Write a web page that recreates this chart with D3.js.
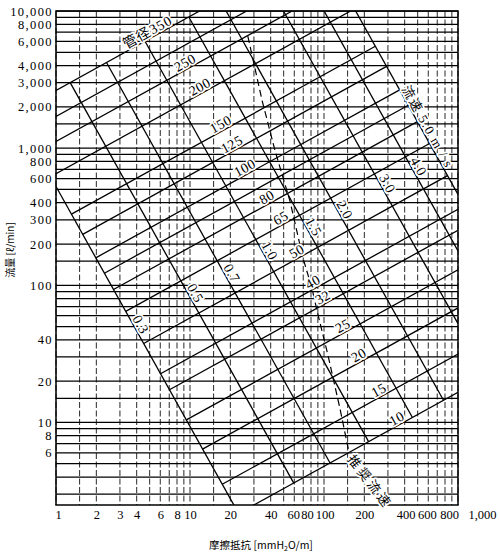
<!DOCTYPE html>
<html><head><meta charset="utf-8">
<script src="https://cdn.jsdelivr.net/npm/d3@7"></script>
<style>body{margin:0;background:#fff}</style>
</head><body>
<svg id="c" width="500" height="555"></svg>
<script>
// ---------------- data ----------------
const xTickValues = [1,2,3,4,6,8,10,20,40,60,80,100,200,400,600,800,1000];
const xTickLabels = ["1","2","3","4","6","8","10","20","40","60","80","100","200","400","600","800","1,000"];
const yTickValues = [10000,8000,6000,4000,3000,2000,1000,800,600,400,300,200,100,40,20,10,8,6];
const yTickLabels = ["10,000","8,000","6,000","4,000","3,000","2,000","1,000","800","600","400","300","200","100","40","20","10","8","6"];
const gridMantissas = [1,1.5,2,3,4,5,6,7,8,9];

// pipe diameter lines: [friction mmH2O/m, flow l/min] at each end
const diameterNames = ["350","300","250","200","150","125","100","90","80","65","50","40","32","25","20","15","10"];
const diameterStart = [[1,2636],[1,1702],[1,1117],[1,650],[1.304,330],[1.582,235],[1.981,158.6],[2.297,122.5],[2.687,93.1],[3.313,64.6],[4.51,37.6],[6.026,22.65],[7.025,17.3],[9.387,10.43],[12.41,6.39],[17.4,3.54],[23.04,2.17]];
const diameterEnd   = [[11.8,10000],[26.5,10000],[57.9,10000],[158,10000],[241.5,5530],[293,3945],[367,2660],[425.5,2055],[497.7,1561],[613.4,1082],[835,630.6],[1000,358],[1000,252],[1000,129.7],[1000,68.4],[1000,31.55],[1000,16.6]];

// velocity lines (m/s)
const velocityNames = ["0.3","0.5","0.7","1.0","1.5","2.0","3.0","4.0","5.0"];
const velocityStart = [[1,525],[1.276,3007],[2.381,4212],[4.615,6021],[9.8,9043],[18.6,10000],[49.8,10000],[100.1,10000],[172.2,10000]];
const velocityEnd   = [[23.04,2.17],[59.5,3.61],[111,5.06],[215.2,7.24],[456.9,10.87],[779.4,14.5],[1000,52.5],[1000,178.2],[1000,460.3]];

// recommended velocity (dashed)
const recommendedS = [27, 34.5, 43.1, 55.7, 69.7, 81.3, 90.2, 107, 131.6, 154];
const recommendedQ = [6560, 2230, 959, 412, 158, 95, 61, 31, 12.6, 6.0];

// ---------------- layout ----------------
const diameterLabelAt = {"350":5.1,"250":9.7,"200":12.5,"150":17.9,"125":21.7,"100":27.1,"80":39.5,"65":50.3,"50":66.2,"40":87.1,"32":103.5,"25":146,"20":192,"15":271,"10":369};
const velocityLabelAt = {"0.3":49,"0.5":83,"0.7":116,"1.0":169,"1.5":253,"2.0":337,"3.0":522,"4.0":696,"5.0":1357};
const xLabelShift = {1:2, 60:-1, 80:-4, 100:0.5, 400:1, 600:-1.5, 800:4, 1000:24};
const SERIF = "'Liberation Serif','Times New Roman',serif";
const CJK = "'Noto Sans CJK JP','Noto Sans',sans-serif";

const svg = d3.select("#c");
const x = d3.scaleLog().domain([1,1000]).range([56,458]);
const y = d3.scaleLog().domain([2.5,10000]).range([505,11]);
const pLeft = x(1), pRight = x(1000), pTop = y(10000), pBottom = y(2.5);

function gridValues(lo, hi){
  const out = [];
  for (let d = 1; d <= hi; d *= 10)
    for (const m of gridMantissas){
      const v = +(m*d).toPrecision(6);
      if (v >= lo && v <= hi) out.push(v);
    }
  return out;
}

// grid
svg.append("g").selectAll("line").data(gridValues(1,1000)).join("line")
  .attr("x1", d=>x(d)).attr("x2", d=>x(d)).attr("y1", pTop).attr("y2", pBottom)
  .attr("stroke", "#111").attr("stroke-width", 0.9).attr("stroke-dasharray", "6,2.5");
svg.append("g").selectAll("line").data(gridValues(2.5,10000)).join("line")
  .attr("x1", pLeft).attr("x2", pRight).attr("y1", d=>y(d)).attr("y2", d=>y(d))
  .attr("stroke", "#000").attr("stroke-width", 1.25);

// frame
svg.append("rect").attr("x", pLeft).attr("y", pTop).attr("width", pRight-pLeft).attr("height", pBottom-pTop)
  .attr("fill", "none").attr("stroke", "#000").attr("stroke-width", 1.5);

// clip
svg.append("defs").append("clipPath").attr("id","plot").append("rect")
  .attr("x", pLeft).attr("y", pTop).attr("width", pRight-pLeft).attr("height", pBottom-pTop);

const line = d3.line().x(d=>x(d[0])).y(d=>y(d[1]));
const gl = svg.append("g").attr("clip-path","url(#plot)");
gl.selectAll("path.dia").data(diameterNames.map((n,i)=>[diameterStart[i],diameterEnd[i]])).join("path")
  .attr("class","dia").attr("d", line).attr("fill","none").attr("stroke","#000").attr("stroke-width",1.3);
gl.selectAll("path.vel").data(velocityNames.map((n,i)=>[velocityStart[i],velocityEnd[i]])).join("path")
  .attr("class","vel").attr("d", line).attr("fill","none").attr("stroke","#000").attr("stroke-width",1.3);
gl.append("path").datum(recommendedS.map((s,i)=>[s,recommendedQ[i]])).attr("d", line)
  .attr("fill","none").attr("stroke","#000").attr("stroke-width",1.2).attr("stroke-dasharray","7,4");

// labels on lines
const gLab = svg.append("g");
function placeLabel(px, py, ang, parts, size, spacing){
  const t = gLab.append("text")
    .attr("transform", `translate(${px},${py}) rotate(${ang})`)
    .attr("y", -2).attr("text-anchor","middle")
    .attr("font-size", size).attr("letter-spacing", spacing||0)
    .attr("fill","#000").attr("stroke","#fff").attr("stroke-width",3.5)
    .attr("stroke-linejoin","round").attr("paint-order","stroke");
  parts.forEach(p => t.append("tspan").attr("font-family", p[1]).text(p[0]));
}
function pointAlong(S0,Q0,S1,Q1,t){
  return [Math.exp(Math.log(S0)+t*(Math.log(S1)-Math.log(S0))), Math.exp(Math.log(Q0)+t*(Math.log(Q1)-Math.log(Q0)))];
}
diameterNames.forEach((name,i)=>{
  const s = diameterLabelAt[name]; if (s == null) return;
  const [S0,Q0] = diameterStart[i], [S1,Q1] = diameterEnd[i];
  const t = (Math.log(s)-Math.log(S0))/(Math.log(S1)-Math.log(S0));
  const p = pointAlong(S0,Q0,S1,Q1,t);
  const ang = Math.atan2(y(Q1)-y(Q0), x(S1)-x(S0))*180/Math.PI;
  const parts = name === "350" ? [["管径",CJK],["350",SERIF]] : [[name,SERIF]];
  placeLabel(x(p[0]), y(p[1]), ang, parts, 14, name==="350"?1:0.5);
});
velocityNames.forEach((name,i)=>{
  const q = velocityLabelAt[name];
  const [S0,Q0] = velocityStart[i], [S1,Q1] = velocityEnd[i];
  const t = (Math.log(q)-Math.log(Q0))/(Math.log(Q1)-Math.log(Q0));
  const p = pointAlong(S0,Q0,S1,Q1,t);
  const ang = Math.atan2(y(Q1)-y(Q0), x(S1)-x(S0))*180/Math.PI;
  const parts = name === "5.0" ? [["流速",CJK],[" 5.0 m / s",SERIF]] : [[name,SERIF]];
  placeLabel(x(p[0]), y(p[1]), ang, parts, name==="5.0"?13:14, name==="5.0"?1.5:0.5);
});
// recommended velocity label
{
  const n = recommendedS.length-1;
  svg.append("text")
    .attr("transform", `translate(${x(recommendedS[n])+2},${y(recommendedQ[n])+3}) rotate(52.6)`)
    .attr("dominant-baseline","central").attr("font-family",CJK).attr("font-size",13)
    .attr("letter-spacing",3).attr("fill","#000")
    .attr("stroke","#fff").attr("stroke-width",3.5).attr("paint-order","stroke").attr("stroke-linejoin","round")
    .text("推奨流速");
}

// axes
const gx = svg.append("g").attr("transform",`translate(0,${pBottom})`)
  .call(d3.axisBottom(x).tickValues(xTickValues).tickFormat((d,i)=>xTickLabels[i]).tickSize(0).tickPadding(5));
gx.select(".domain").remove();
gx.attr("font-family", SERIF).attr("font-size", 12.5);
gx.selectAll(".tick text").attr("fill","#000").attr("dx", d => xLabelShift[d] || 0);

const gy = svg.append("g").attr("transform",`translate(${pLeft},0)`)
  .call(d3.axisLeft(y).tickValues(yTickValues).tickFormat((d,i)=>yTickLabels[i]).tickSize(0).tickPadding(3));
gy.select(".domain").remove();
gy.attr("font-family", SERIF).attr("font-size", 12.5);
gy.selectAll(".tick text").attr("fill","#000").attr("letter-spacing", 1.4);

// axis titles
const xt = svg.append("text").attr("x", 261).attr("y", 549).attr("text-anchor","middle")
  .attr("font-family", CJK).attr("font-size", 10.5).attr("fill","#000");
xt.append("tspan").text("摩擦抵抗 [mmH");
xt.append("tspan").attr("font-size",7).attr("dy",2).text("2");
xt.append("tspan").attr("dy",-2).text("O/m]");

svg.append("text").attr("transform","translate(9,250) rotate(-90)")
  .attr("text-anchor","middle").attr("dominant-baseline","central")
  .attr("font-family", CJK).attr("font-size", 10).attr("fill","#000")
  .text("流量 [ℓ/min]");
</script>
</body></html>
